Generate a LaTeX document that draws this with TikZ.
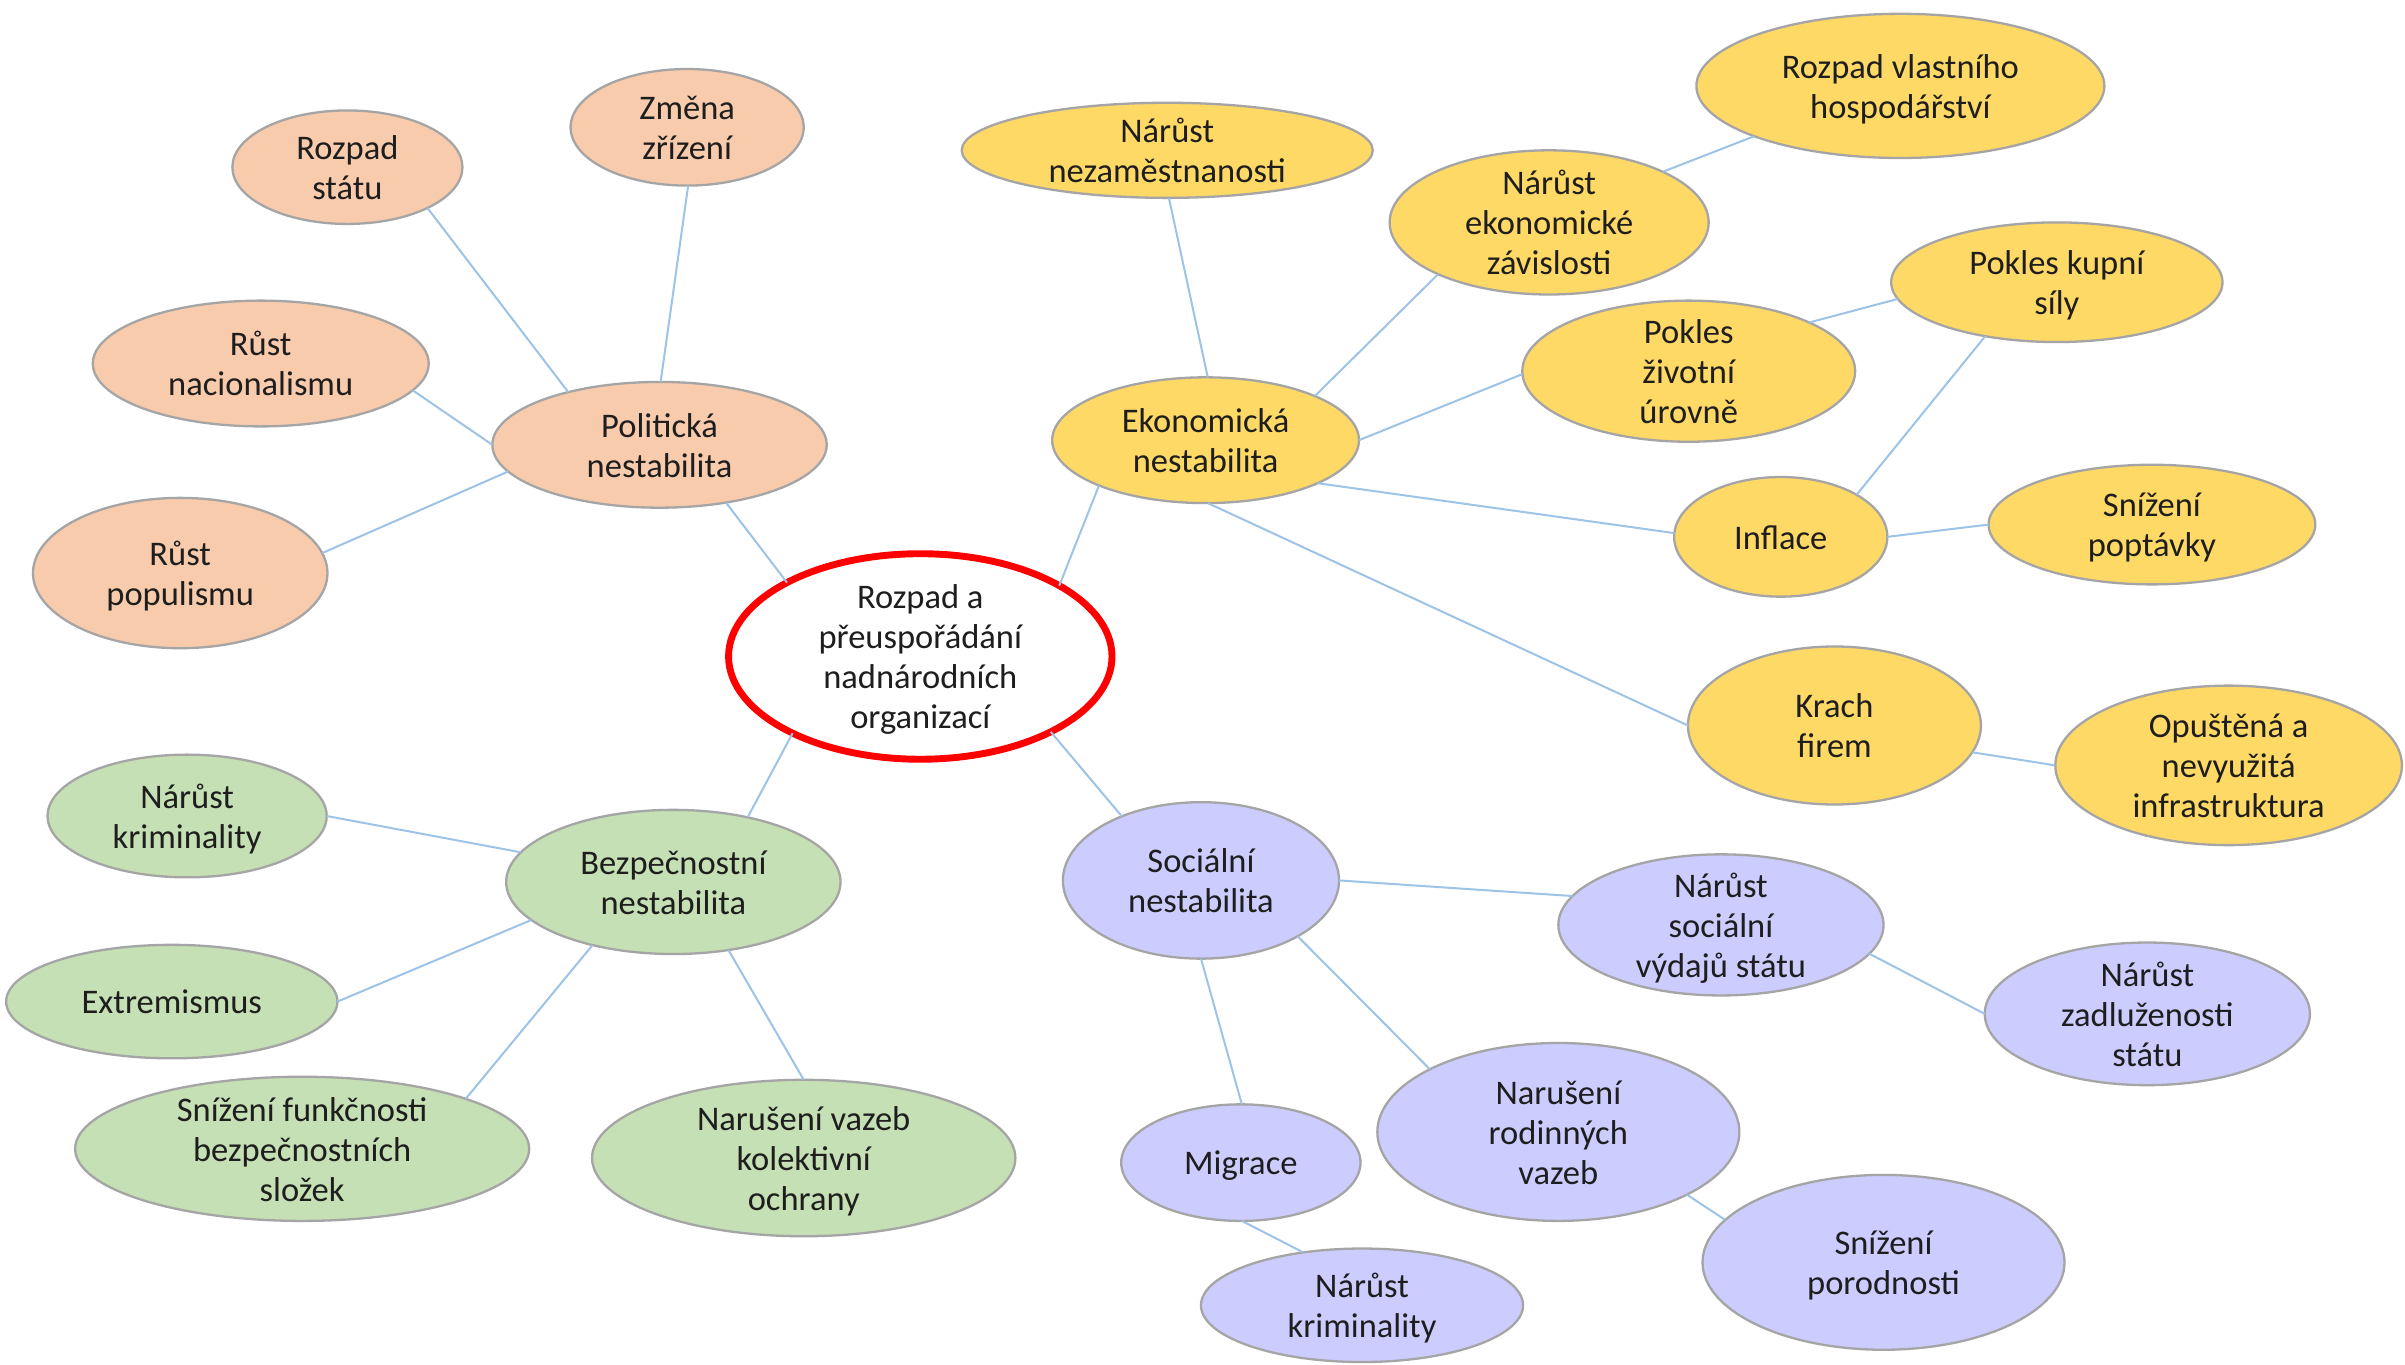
\documentclass[tikz,border=0pt]{standalone}
\usepackage{fontspec}
\setmainfont{Carlito}
\usetikzlibrary{shapes.geometric}
\definecolor{peach}{HTML}{F8CBAD}
\definecolor{ylw}{HTML}{FFD966}
\definecolor{grn}{HTML}{C5E0B4}
\definecolor{lav}{HTML}{CCCCFF}
\definecolor{bord}{HTML}{A5A5A5}
\definecolor{conn}{HTML}{9DC3E6}
\definecolor{txt}{HTML}{1E1E1E}
\newcommand\lbl[1]{\makebox[0pt]{\smash{\raisebox{-8pt}{\begin{tabular}{@{}c@{}}#1\end{tabular}}}}}
\begin{document}
\begin{tikzpicture}[x=1pt,y=-1pt,
  bub/.style={ellipse, draw=bord, line width=1.5pt, inner sep=0pt, outer sep=0pt,
    text=txt, font=\fontsize{22.5}{26}\selectfont},
  sz/.style 2 args={minimum width=#1pt, minimum height=#2pt},
  pol/.style={bub, fill=peach},
  eko/.style={bub, fill=ylw},
  bez/.style={bub, fill=grn},
  soc/.style={bub, fill=lav},
  con/.style={draw=conn, line width=1.3pt}]
\useasboundingbox[fill=white] (0,0) rectangle (1568,889.3);

% centre
\node[bub, draw=red, line width=4.5pt, fill=white, sz={250}{134}] (c) at (600,428) {\lbl{Rozpad a\\přeuspořádání\\nadnárodních\\organizací}};

% political
\node[pol, sz={218}{82}] (pn) at (430,290) {\lbl{Politická\\nestabilita}};
\node[pol, sz={150}{74}] (rs) at (226.5,109) {\lbl{Rozpad\\státu}};
\node[pol, sz={152}{76}] (zz) at (448,83) {\lbl{Změna\\zřízení}};
\node[pol, sz={219}{82}] (rn) at (170,237) {\lbl{Růst\\nacionalismu}};
\node[pol, sz={192}{98}] (rp) at (117.5,373.6) {\lbl{Růst\\populismu}};

% economic
\node[eko, sz={200}{82}] (ek) at (786,287) {\lbl{Ekonomická\\nestabilita}};
\node[eko, sz={268}{62}] (nez) at (761,98) {\lbl{Nárůst\\nezaměstnanosti}};
\node[eko, sz={208}{94}] (zav) at (1010,145) {\lbl{Nárůst\\ekonomické\\závislosti}};
\node[eko, sz={266}{94}] (rvh) at (1239,56) {\lbl{Rozpad vlastního\\hospodářství}};
\node[eko, sz={216}{78}] (ks) at (1341,184) {\lbl{Pokles kupní\\síly}};
\node[eko, sz={217}{92}] (zu) at (1101,242) {\lbl{Pokles\\životní\\úrovně}};
\node[eko, sz={139}{78}] (inf) at (1161,350) {\lbl{Inflace}};
\node[eko, sz={213}{78}] (sp) at (1403,342) {\lbl{Snížení\\poptávky}};
\node[eko, sz={191}{103}] (kf) at (1196,473) {\lbl{Krach\\firem}};
\node[eko, sz={226}{104}] (oi) at (1453,499) {\lbl{Opuštěná a\\nevyužitá\\infrastruktura}};

% security
\node[bez, sz={218}{94}] (bz) at (439,575) {\lbl{Bezpečnostní\\nestabilita}};
\node[bez, sz={182}{80}] (nk) at (122,532) {\lbl{Nárůst\\kriminality}};
\node[bez, sz={216}{74}] (ex) at (112,653) {\lbl{Extremismus}};
\node[bez, sz={296}{94}] (sf) at (197,749) {\lbl{Snížení funkčnosti\\bezpečnostních\\složek}};
\node[bez, sz={276}{102}] (nv) at (524,755) {\lbl{Narušení vazeb\\kolektivní\\ochrany}};

% social
\node[soc, sz={180}{102}] (sn) at (783,574) {\lbl{Sociální\\nestabilita}};
\node[soc, sz={212}{92}] (vy) at (1122,603) {\lbl{Nárůst\\sociální\\výdajů státu}};
\node[soc, sz={212}{93}] (za) at (1400,661) {\lbl{Nárůst\\zadluženosti\\státu}};
\node[soc, sz={236}{116}] (rv) at (1016,738) {\lbl{Narušení\\rodinných\\vazeb}};
\node[soc, sz={156}{76}] (mg) at (809,758) {\lbl{Migrace}};
\node[soc, sz={210}{74}] (nk2) at (888,851) {\lbl{Nárůst\\kriminality}};
\node[soc, sz={236}{114}] (po) at (1228,823) {\lbl{Snížení\\porodnosti}};

% political connectors
\draw[con] (rs.-27.6) -- (pn.150.6);
\draw[con] (zz.-89.4) -- (pn.89.4);
\draw[con] (rn.-10.7) -- (pn.180);
\draw[con] (rp.8.3) -- (pn.190.2);
\draw[con] (pn.-41.2) -- (c.151.5);
% economic connectors
\draw[con] (nez.-88.2) -- (ek.88.6);
\draw[con] (zav.205.9) -- (ek.22.6);
\draw[con] (zav.24.1) -- (rvh.199.8);
\draw[con] (ek.0.6) -- (zu.181);
\draw[con] (zu.22.4) -- (ks.186.7);
\draw[con] (ek.-21.9) -- (inf.178.9);
\draw[con] (inf.29.6) -- (ks.217.1);
\draw[con] (inf.0) -- (sp.180.5);
\draw[con] (ek.-88.7) -- (kf.180.6);
\draw[con] (kf.-11.8) -- (oi.180);
\draw[con] (c.27.8) -- (ek.203.2);
% security connectors
\draw[con] (c.211.4) -- (bz.41.9);
\draw[con] (nk.-0.7) -- (bz.169.8);
\draw[con] (ex.0) -- (bz.195.9);
\draw[con] (sf.17.2) -- (bz.218.6);
\draw[con] (nv.90) -- (bz.-51.3);
% social connectors
\draw[con] (c.-30.5) -- (sn.141);
\draw[con] (sn.0) -- (vy.169.8);
\draw[con] (vy.-11.7) -- (za.180);
\draw[con] (sn.-90) -- (mg.89);
\draw[con] (sn.-30.2) -- (rv.154);
\draw[con] (mg.-89) -- (nk2.138.8);
\draw[con] (rv.-26.5) -- (po.165.7);
\end{tikzpicture}
\end{document}
